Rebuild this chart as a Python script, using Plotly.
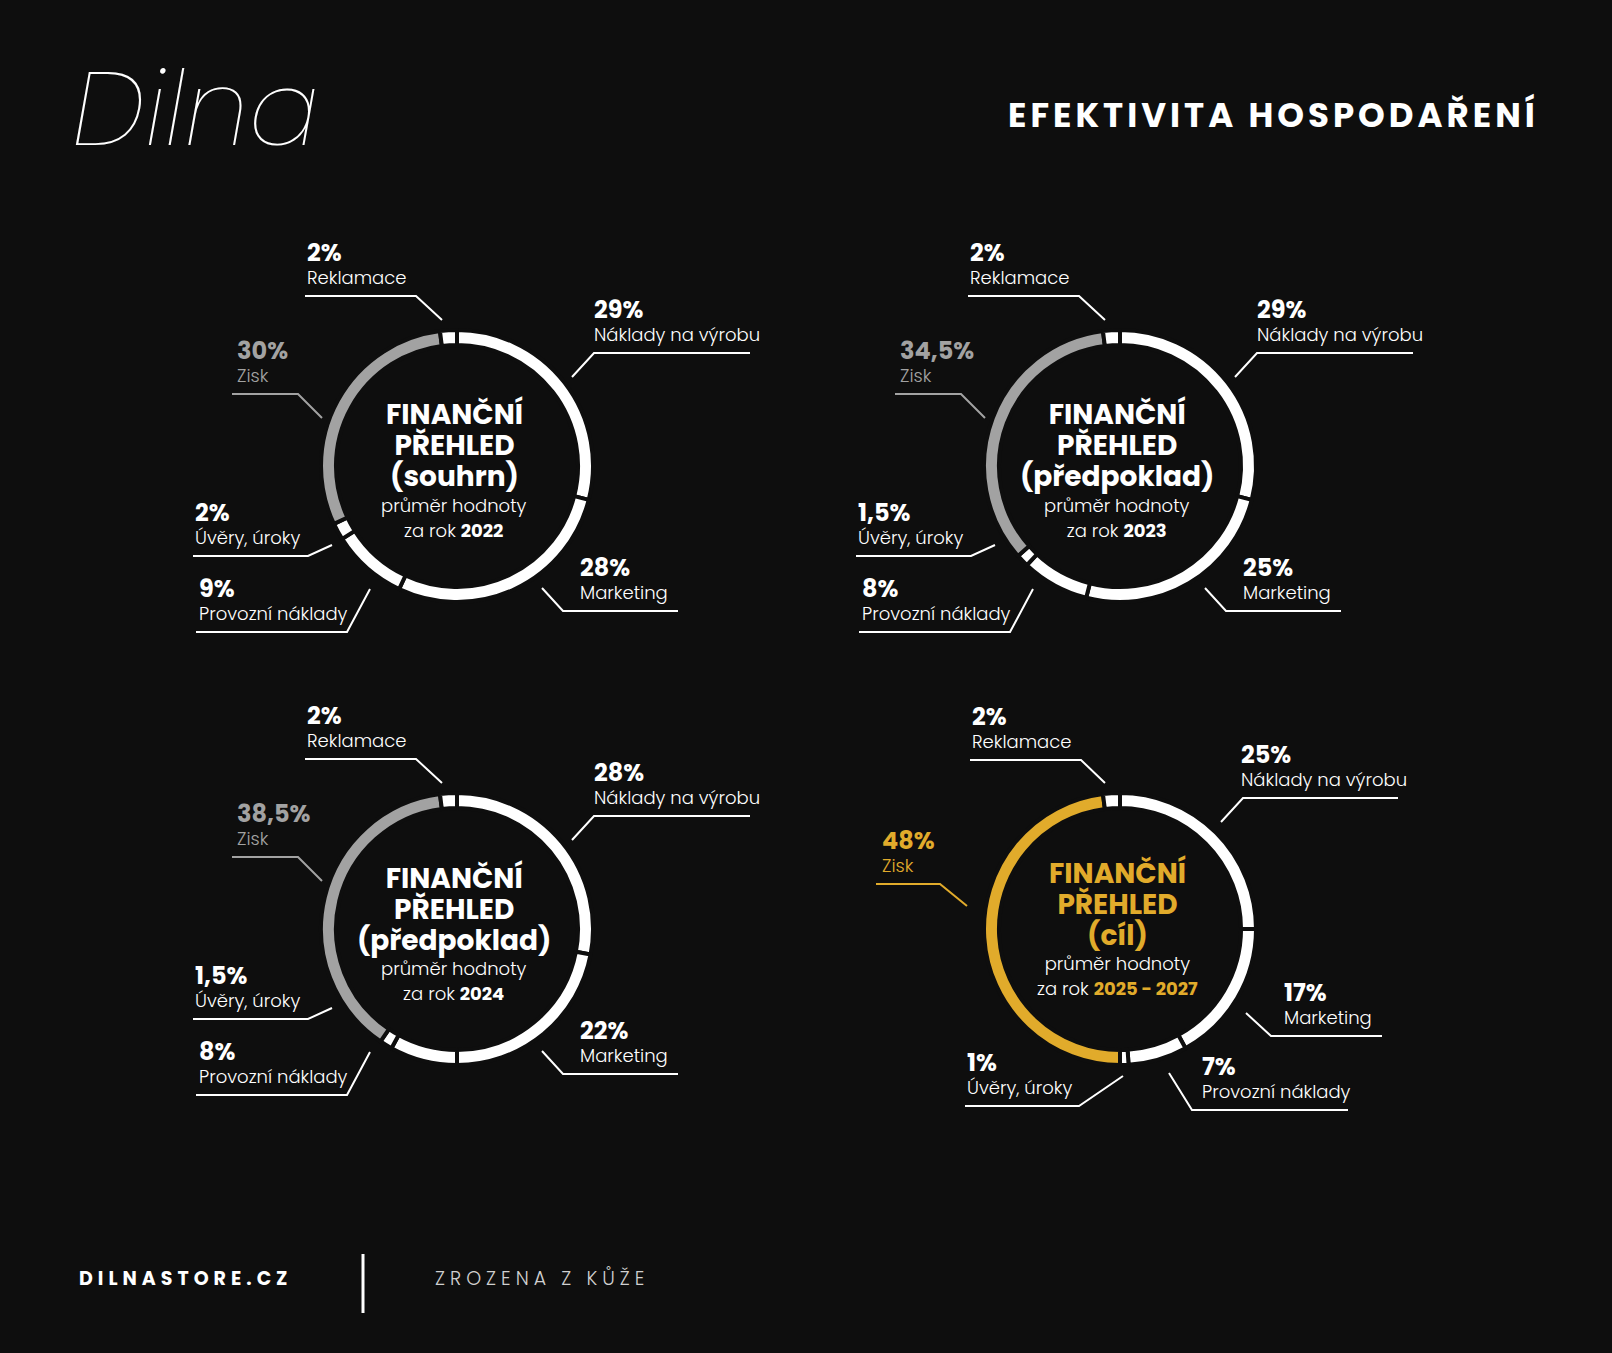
import plotly.graph_objects as go

W, H = 1612, 1353
BG = "#0e0e0e"
WHITE = "#ffffff"
GRAY = "#a2a2a2"
GOLD = "#e1ab2b"
FONT = "Poppins, Inter, sans-serif"

# data
categories = ["Náklady na výrobu", "Marketing", "Provozní náklady", "Úvěry, úroky", "Zisk", "Reklamace"]
souhrn_2022 = [29, 28, 9, 2, 30, 2]
predpoklad_2023 = [29, 25, 8, 1.5, 34.5, 2]
predpoklad_2024 = [28, 22, 8, 1.5, 38.5, 2]
cil_2025_2027 = [25, 17, 7, 1, 48, 2]
chart_subtitles = ["(souhrn)", "(předpoklad)", "(předpoklad)", "(cíl)"]
chart_years = ["2022", "2023", "2024", "2025 - 2027"]

chart_values = [souhrn_2022, predpoklad_2023, predpoklad_2024, cil_2025_2027]
centers = [(457, 466), (1120, 466), (457, 929), (1120, 929)]
accents = [GRAY, GRAY, GRAY, GOLD]

R = 136          # pie radius in px
HOLE = 0.89
GAP = 4

# label placement relative to donut centre:
# text x, elbow x, elbow y, far end x of underline, end x, end y at the ring
layout_std = {
    "Náklady na výrobu": (135, 137, -113, 293, 115, -89),
    "Marketing": (121, 106, 145, 221, 85, 122),
    "Provozní náklady": (-260, -110, 166, -261, -87, 123),
    "Úvěry, úroky": (-264, -149, 90, -264, -125, 79),
    "Zisk": (-222, -159, -72, -225, -135, -48),
    "Reklamace": (-152, -41, -170, -152, -15, -146),
}
layout_goal = {
    "Náklady na výrobu": (119, 123, -131, 278, 101, -107),
    "Marketing": (162, 151, 107, 262, 126, 84),
    "Provozní náklady": (80, 72, 181, 228, 49, 144),
    "Úvěry, úroky": (-155, -41, 177, -155, 3, 147),
    "Zisk": (-240, -180, -45, -244, -153, -23),
    "Reklamace": (-150, -39, -169, -150, -15, -146),
}
label_layouts = [layout_std, layout_std, layout_std, layout_goal]
# vertical offsets of centre title block and of the subtitle block
center_dy = [(-20, 52), (-20, 52), (-20, 52), (-24, 47)]


def px(x):
    return x / W


def py(y):
    return 1 - y / H


def fmt(v):
    return f"{v:g}".replace(".", ",") + "%"


def text(x, y, s, size, color=WHITE, anchor="left", weight=400, family=FONT, style="normal"):
    fig.add_annotation(x=px(x), y=py(y), xref="paper", yref="paper", text=s, showarrow=False,
                       xanchor=anchor, yanchor="middle", align=anchor,
                       font=dict(family=family, size=size, color=color, weight=weight, style=style))


fig = go.Figure()

for i, values in enumerate(chart_values):
    cx, cy = centers[i]
    accent = accents[i]
    colors = [accent if c == "Zisk" else WHITE for c in categories]
    fig.add_trace(go.Pie(
        values=values, labels=categories, hole=HOLE, sort=False,
        direction="clockwise", rotation=0, textinfo="none",
        hovertemplate="%{label}: %{value}%<extra></extra>",
        marker=dict(colors=colors, line=dict(color=BG, width=GAP)),
        showlegend=False,
        domain=dict(x=[px(cx - R), px(cx + R)], y=[py(cy + R), py(cy - R)]),
    ))

    # centre text
    title_col = GOLD if i == 3 else WHITE
    dy_title, dy_sub = center_dy[i]
    title = "<br>".join(f"<span style='font-size:28px'><b>{s}</b></span>"
                        for s in ["FINANČNÍ", "PŘEHLED", chart_subtitles[i]])
    text(cx - 3, cy + dy_title, title, 24, title_col, "center", 400)
    sub = (f"<span style='font-size:18px'>průměr hodnoty</span><br>"
           f"<span style='font-size:18px'>za rok <span style='color:{title_col}'><b>{chart_years[i]}</b></span></span>")
    text(cx - 3, cy + dy_sub, sub, 19, WHITE, "center", 300)

    # labels with leader lines
    lay = label_layouts[i]
    for cat, v in zip(categories, values):
        tx, ex, ey, fx, ax, ay = lay[cat]
        col = accent if cat == "Zisk" else WHITE
        label = f"<span style='font-size:24px'><b>{fmt(v)}</b></span><br>{cat}"
        text(cx + tx, cy + ey - 33, label, 18, col, "left", 300)
        path = (f"M {px(cx + fx)} {py(cy + ey)} L {px(cx + ex)} {py(cy + ey)} "
                f"L {px(cx + ax)} {py(cy + ay)}")
        fig.add_shape(type="path", path=path, xref="paper", yref="paper",
                      line=dict(color=col, width=2))

# header
text(1541, 115, "<span style='letter-spacing:4px'>EFEKTIVITA HOSPODAŘENÍ</span>", 34, WHITE, "right", 700)
text(70, 108, "Dilna", 104, WHITE, "left", 100, FONT, "italic")

# footer
text(77, 1278, "<span style='letter-spacing:5px'>DILNASTORE.CZ</span>", 19, WHITE, "left", 700)
fig.add_shape(type="line", xref="paper", yref="paper", x0=px(363), x1=px(363), y0=py(1254), y1=py(1313),
              line=dict(color=WHITE, width=3))
text(433, 1278, "<span style='letter-spacing:5px'>ZROZENA Z KŮŽE</span>", 19, "#d0d0d0", "left", 300)

fig.update_layout(
    width=W, height=H,
    margin=dict(l=0, r=0, t=0, b=0),
    paper_bgcolor=BG, plot_bgcolor=BG,
    font=dict(family=FONT, color=WHITE),
)

fig.write_html("out.html", config={"displayModeBar": False},
               post_script="document.body.style.margin='0';document.body.style.background='#0e0e0e';")
